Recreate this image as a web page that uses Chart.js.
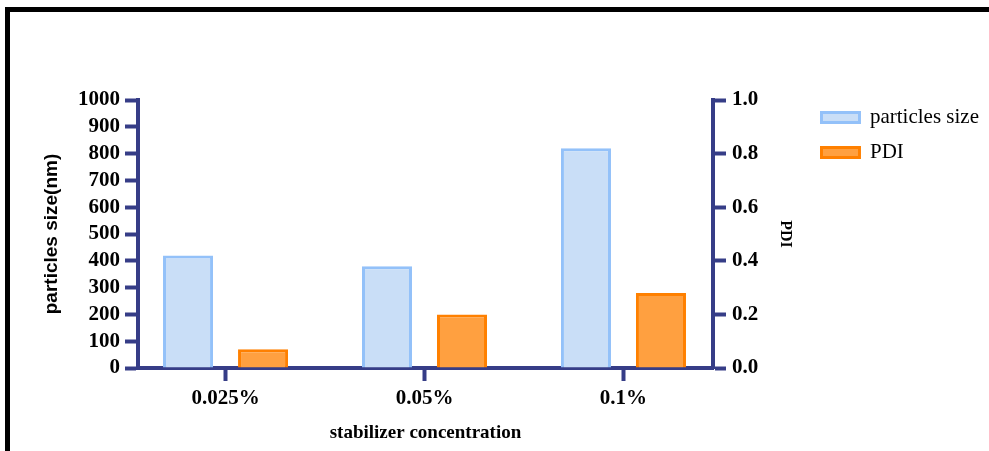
<!DOCTYPE html>
<html>
<head>
<meta charset="utf-8">
<script src="https://cdn.jsdelivr.net/npm/chart.js@4/dist/chart.umd.min.js"></script>
<style>
  html, body { margin: 0; padding: 0; background: #fff; overflow: hidden; }
  #wrap { position: relative; width: 989px; height: 451px; }
  #frame { position: absolute; left: 5px; top: 7px; width: 990px; height: 450px;
           border-left: 5px solid #000; border-top: 5px solid #000; pointer-events: none; }
</style>
</head>
<body>
<div id="wrap">
  <canvas id="grafico" width="989" height="451"></canvas>
  <div id="frame"></div>
</div>
<script>
// dados
const categorias = ['0.025%', '0.05%', '0.1%'];
const tamanhoParticulas = [420, 380, 820];   // nm, eixo esquerdo
const pdi = [0.07, 0.2, 0.28];               // eixo direito
const ticksTamanho = [0, 100, 200, 300, 400, 500, 600, 700, 800, 900, 1000];
const ticksPdi = [0, 0.2, 0.4, 0.6, 0.8, 1.0];

const corEixo = '#363d87';
const serif = 'Liberation Serif';
const padDireita = 0;

// eixo x linear para posicionar as categorias como no original
const pontos = vals => vals.map((v, i) => ({ x: i, y: v }));

const eixoBase = {
  border: { display: true, color: corEixo, width: 4 },
  grid: { drawOnChartArea: false, drawTicks: true, offset: false, tickLength: 13, tickWidth: 4, tickColor: corEixo, color: corEixo },
  ticks: { color: '#000', autoSkip: false, font: { family: serif, weight: 'bold', size: 21 } },
  z: 1
};

// sobe um pouco a legenda
const ajusteLegenda = {
  id: 'ajusteLegenda',
  afterLayout(chart) {
    chart.legend.top -= 7;
    chart.legend.bottom -= 7;
  }
};

new Chart(document.getElementById('grafico'), {
  type: 'bar',
  data: {
    datasets: [{
      label: 'particles size',
      data: pontos(tamanhoParticulas),
      yAxisID: 'y',
      backgroundColor: '#c9def7',
      borderColor: '#93c1f9',
      borderWidth: 3
    }, {
      label: 'PDI',
      data: pontos(pdi),
      yAxisID: 'y1',
      backgroundColor: '#ffa040',
      borderColor: '#ff8000',
      borderWidth: 3
    }]
  },
  options: {
    responsive: false,
    animation: false,
    categoryPercentage: 0.754,
    barPercentage: 0.667,
    layout: { padding: { top: 100, left: 0, right: padDireita, bottom: 0 } },
    plugins: {
      tooltip: { enabled: false },
      legend: {
        position: 'right',
        align: 'start',
        maxWidth: 220,
        labels: {
          boxWidth: 38,
          boxHeight: 10,
          padding: 14,
          color: '#000',
          font: { family: serif, size: 21 }
        }
      }
    },
    scales: {
      x: {
        ...eixoBase,
        type: 'linear',
        offset: false,
        min: -0.44,
        max: 2.45,
        afterBuildTicks: s => { s.ticks = categorias.map((c, i) => ({ value: i })); },
        ticks: {
          ...eixoBase.ticks,
          padding: 5,
          callback: v => categorias[v]
        },
        title: {
          display: true,
          text: 'stabilizer concentration',
          color: '#000',
          font: { family: serif, weight: 'bold', size: 19 },
          padding: { top: 0, bottom: 7 }
        },
        afterFit: s => { s.height = 83; }
      },
      y: {
        ...eixoBase,
        position: 'left',
        min: 0,
        max: 1000,
        afterBuildTicks: s => { s.ticks = ticksTamanho.map(v => ({ value: v })); },
        ticks: { ...eixoBase.ticks, padding: 5, callback: v => String(v) },
        title: {
          display: true,
          text: 'particles size(nm)',
          color: '#000',
          font: { family: 'Liberation Sans', weight: 'bold', size: 19 },
          padding: { top: 40, bottom: 0 }
        },
        afterFit: s => { s.width = 138; }
      },
      y1: {
        ...eixoBase,
        position: 'right',
        min: 0,
        max: 1,
        afterBuildTicks: s => { s.ticks = ticksPdi.map(v => ({ value: v })); },
        ticks: { ...eixoBase.ticks, padding: 6, callback: v => v.toFixed(1) },
        title: {
          display: true,
          text: 'PDI',
          color: '#000',
          font: { family: serif, weight: 'bold', size: 16 },
          padding: { top: 13, bottom: 0 }
        },
        afterFit: s => {
          const c = s.chart;
          s.width = c.width - padDireita - c.legend.width - 713;
        }
      }
    }
  },
  plugins: [ajusteLegenda]
});
</script>
</body>
</html>
